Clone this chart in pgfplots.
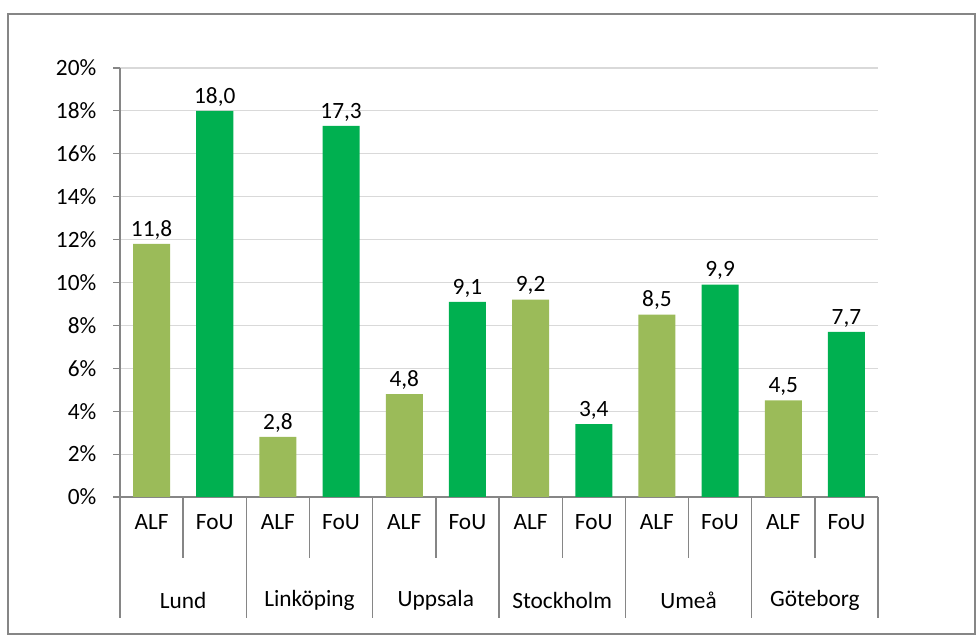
\documentclass[border=0pt]{standalone}
\usepackage{pgfplots}
\pgfplotsset{compat=1.18}
\usepackage{fontspec}
\setmainfont{Carlito}
\definecolor{alf}{HTML}{9BBB59}
\definecolor{fou}{HTML}{00B050}
\definecolor{axgray}{HTML}{868686}
\definecolor{gridgray}{HTML}{D9D9D9}
\newcommand{\cf}{\fontsize{17.5pt}{21pt}\selectfont}
\begin{document}
\begin{tikzpicture}[x=0.75pt,y=0.75pt,font=\cf]
\path[use as bounding box] (0,0) rectangle (976,635);
\draw[axgray, line width=1.2pt] (8,1) rectangle (975,621);
\begin{axis}[
  at={(90pt,103.5pt)}, anchor=south west,
  scale only axis, width=568.5pt, height=321.75pt,
  xmin=0, xmax=12, ymin=0, ymax=20,
  axis x line*=bottom, axis y line*=left,
  axis line style={axgray, line width=0.8pt},
  ytick={0,2,...,20},
  yticklabel={\pgfmathprintnumber{\tick}\%},
  /pgf/number format/assume math mode=true,
  ymajorgrids, major grid style={gridgray, line width=0.8pt},
  tick align=outside,
  y tick style={axgray, line width=0.8pt},
  major tick length=5.25pt,
  yticklabel style={font=\cf, xshift=-9pt},
  xtick=\empty,
  ybar, bar width=27.75pt,
  nodes near coords,
  point meta=y,
  every node near coord/.append style={font=\cf, black, /pgf/number format/.cd, use comma, fixed, fixed zerofill, precision=1, assume math mode=true},
  clip=false,
]
\addplot[fill=alf, draw=none, bar shift=0pt] coordinates {(0.5,11.8) (2.5,2.8) (4.5,4.8) (6.5,9.2) (8.5,8.5) (10.5,4.5)};
\addplot[fill=fou, draw=none, bar shift=0pt] coordinates {(1.5,18.0) (3.5,17.3) (5.5,9.1) (7.5,3.4) (9.5,9.9) (11.5,7.7)};
\pgfplotsinvokeforeach{0,2,4,6,8,10,12}{
  \draw[axgray, line width=1pt] (axis cs:#1,0) -- ([yshift=-90.75pt]axis cs:#1,0);
}
\pgfplotsinvokeforeach{1,3,5,7,9,11}{
  \draw[axgray, line width=1pt] (axis cs:#1,0) -- ([yshift=-45.75pt]axis cs:#1,0);
}
\pgfplotsinvokeforeach{0.5,2.5,4.5,6.5,8.5,10.5}{
  \node[anchor=center, yshift=-18.75pt] at (axis cs:#1,0) {ALF};
}
\pgfplotsinvokeforeach{1.5,3.5,5.5,7.5,9.5,11.5}{
  \node[anchor=center, yshift=-18.75pt] at (axis cs:#1,0) {FoU};
}
\node[anchor=center, yshift=-77.25pt] at (axis cs:1,0) {Lund};
\node[anchor=center, yshift=-77.25pt] at (axis cs:3,0) {Linköping};
\node[anchor=center, yshift=-77.25pt] at (axis cs:5,0) {Uppsala};
\node[anchor=center, yshift=-77.25pt] at (axis cs:7,0) {Stockholm};
\node[anchor=center, yshift=-77.25pt] at (axis cs:9,0) {Umeå};
\node[anchor=center, yshift=-77.25pt] at (axis cs:11,0) {Göteborg};
\end{axis}
\end{tikzpicture}
\end{document}
